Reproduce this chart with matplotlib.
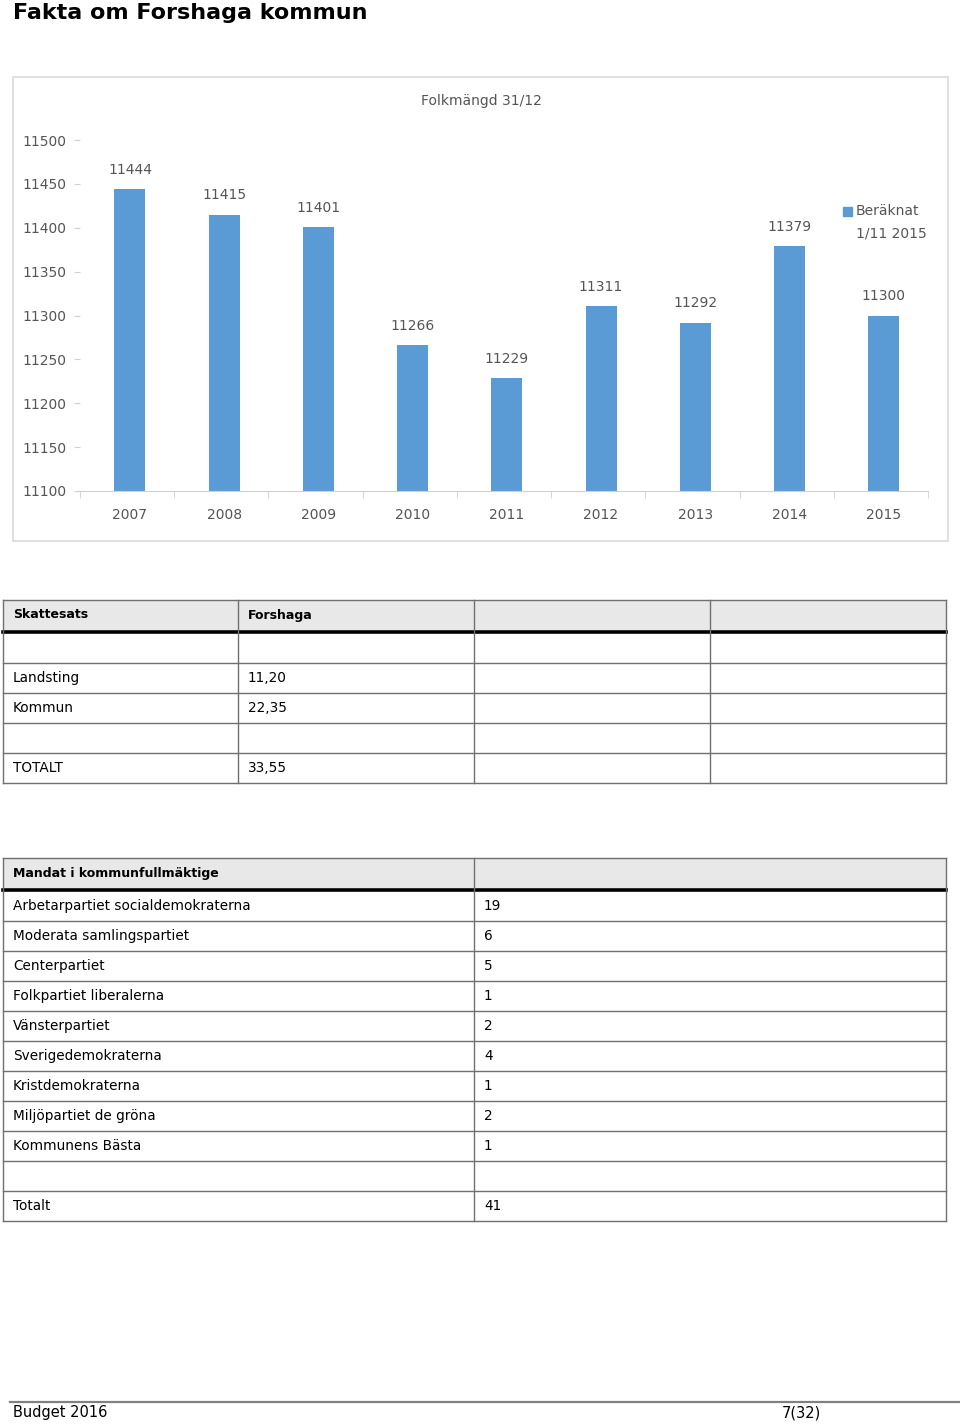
import matplotlib
matplotlib.use("Agg")
import matplotlib.pyplot as plt
from matplotlib.patches import Rectangle

# data
years = ["2007", "2008", "2009", "2010", "2011", "2012", "2013", "2014", "2015"]
folkmangd = [11444, 11415, 11401, 11266, 11229, 11311, 11292, 11379, 11300]
y_ticks = [11100, 11150, 11200, 11250, 11300, 11350, 11400, 11450, 11500]

skatt_header = ["Skattesats", "Forshaga", "", ""]
skatt_rows = [["", ""], ["Landsting", "11,20"], ["Kommun", "22,35"], ["", ""], ["TOTALT", "33,55"]]

mandat_header = ["Mandat i kommunfullmäktige", ""]
partier = ["Arbetarpartiet socialdemokraterna", "Moderata samlingspartiet", "Centerpartiet",
           "Folkpartiet liberalerna", "Vänsterpartiet", "Sverigedemokraterna",
           "Kristdemokraterna", "Miljöpartiet de gröna", "Kommunens Bästa", "", "Totalt"]
mandat = ["19", "6", "5", "1", "2", "4", "1", "2", "1", "", "41"]

W, H = 960, 1424
BLUE = "#5b9bd5"
GRAY_TXT = "#555555"
FS = 9.8

fig = plt.figure(figsize=(W / 100, H / 100), dpi=100)

# background axes in pixel coordinates for page stuff
bg = fig.add_axes([0, 0, 1, 1], zorder=0)
bg.set_xlim(0, W)
bg.set_ylim(H, 0)
bg.axis("off")

bg.text(13, 13, "Fakta om Forshaga kommun", fontsize=16, fontweight="bold",
        va="center", ha="left")

# chart frame
bg.add_patch(Rectangle((13, 77), 935, 464, fill=False, edgecolor="#d9d9d9", lw=1.2))

# ---- chart ----
ax = fig.add_axes([80 / W, 1 - 491 / H, 848 / W, 351 / H], zorder=1)
ax.patch.set_alpha(0)
x = list(range(len(years)))
bars = ax.bar([xi + 0.03 for xi in x], folkmangd, width=0.33, color=BLUE)
ax.set_xlim(-0.5, len(years) - 0.5)
ax.set_ylim(11100, 11500)
for xi, v in zip(x, folkmangd):
    ax.text(xi + 0.03, v + 14, str(v), ha="center", va="bottom", fontsize=10, color=GRAY_TXT)
for s in ["top", "right", "left"]:
    ax.spines[s].set_visible(False)
ax.spines["bottom"].set_color("#d0d0d0")
ax.set_xticks([xi + 0.03 for xi in x])
ax.set_xticklabels(years, fontsize=10, color=GRAY_TXT)
ax.tick_params(axis="x", which="major", length=0, pad=12)
ax.set_xticks([i - 0.5 for i in range(len(years) + 1)], minor=True)
ax.tick_params(axis="x", which="minor", length=5, color="#d0d0d0")
ax.set_yticks(y_ticks)
ax.set_yticklabels([str(t) for t in y_ticks], fontsize=10, color=GRAY_TXT)
ax.tick_params(axis="y", length=4, color="#d0d0d0", pad=6)
ax.text(0.473, 1.11, "Folkmängd 31/12", transform=ax.transAxes, ha="center", va="center",
        fontsize=10, color=GRAY_TXT)
# legend
ax.add_patch(Rectangle((0.900, 0.783), 0.010, 0.026, transform=ax.transAxes,
                       color=BLUE, clip_on=False))
ax.text(0.915, 0.798, "Beräknat", transform=ax.transAxes, ha="left", va="center",
        fontsize=10, color=GRAY_TXT)
ax.text(0.915, 0.735, "1/11 2015", transform=ax.transAxes, ha="left", va="center",
        fontsize=10, color=GRAY_TXT)

# ---- tables ----
LINE = "#707070"


def draw_table(cols, top, header, rows, row_h=30):
    left, right = cols[0], cols[-1]
    # header
    bg.add_patch(Rectangle((left, top), right - left, row_h, facecolor="#e8e8e8",
                           edgecolor="none"))
    for j, t in enumerate(header):
        bg.text(cols[j] + 10, top + row_h / 2, t, fontsize=9, fontweight="bold",
                va="center", ha="left")
    y0 = top + row_h + 3
    for i, r in enumerate(rows):
        yc = y0 + i * row_h + row_h / 2
        for j, t in enumerate(r):
            bg.text(cols[j] + 10, yc, t, fontsize=FS, va="center", ha="left")
    bottom = y0 + len(rows) * row_h
    # lines
    bg.plot([left, right], [top, top], color=LINE, lw=1)
    bg.plot([left, right], [top + row_h + 1.5, top + row_h + 1.5], color="black", lw=2.6)
    for i in range(1, len(rows) + 1):
        yy = y0 + i * row_h
        bg.plot([left, right], [yy, yy], color=LINE, lw=1)
    for c in cols:
        bg.plot([c, c], [top, bottom], color=LINE, lw=1)


draw_table([3, 238, 474, 710, 946], 600, skatt_header, skatt_rows)
draw_table([3, 474, 946], 858, mandat_header, [[p, m] for p, m in zip(partier, mandat)])

# footer
bg.plot([10, 960], [1402, 1402], color="#808080", lw=1.6)
bg.text(13, 1413, "Budget 2016", fontsize=10.5, va="center", ha="left")
bg.text(782, 1413, "7(32)", fontsize=10.5, va="center", ha="left")

fig.savefig("out.png", dpi=100)
